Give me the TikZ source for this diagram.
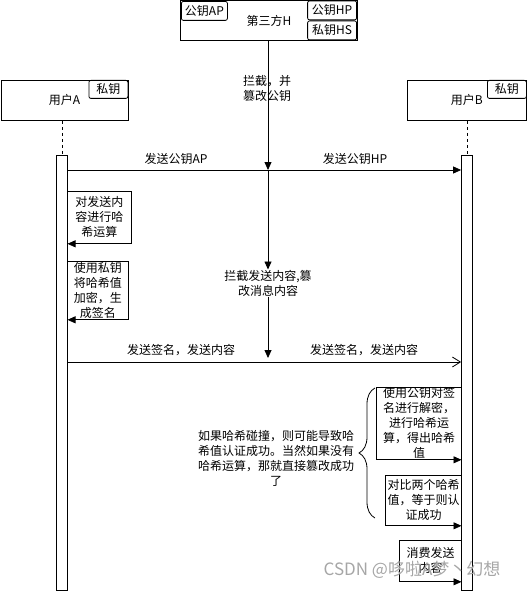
\documentclass[tikz,border=0pt]{standalone}
\usepackage{fontspec}
\setmainfont{Noto Sans CJK SC}
\usetikzlibrary{arrows.meta,decorations.pathreplacing}
\begin{document}
\begin{tikzpicture}[x=1pt,y=-1pt,line width=0.8pt,
  font=\fontsize{12}{15}\selectfont,
  box/.style={draw,rectangle,inner sep=0pt},
  keybox/.style={draw,rounded corners=2pt,inner sep=0pt,minimum height=19pt},
  bar/.style={draw,fill=white,minimum width=11pt,inner sep=0pt},
  msg/.style={-{Triangle[length=8pt,width=7pt]}},
  omsg/.style={-{Straight Barb[length=8pt,width=10pt]}},
  txt/.style={align=center,inner sep=0pt},
  selfbox/.style={inner sep=0pt,align=center},
  life/.style={dash pattern=on 3pt off 3pt}]
\useasboundingbox (0,0) rectangle (528,591);

% participants
\node[box,minimum width=177pt,minimum height=40pt,anchor=north west] (H) at (180,0.5) {第三方H};
\node[keybox,minimum width=46pt,anchor=north west] (hAP) at (181,1) {公钥AP};
\node[keybox,minimum width=49pt,anchor=north east] (hHP) at (357,0.5) {公钥HP};
\node[keybox,minimum width=49pt,anchor=north east] (hHS) at (357,20.5) {私钥HS};

\node[box,minimum width=127pt,minimum height=40pt,anchor=north west] (uA) at (0.5,80) {用户A};
\node[keybox,minimum width=39pt,minimum height=18pt,anchor=north east] (kA) at (uA.north east) {私钥};
\node[box,minimum width=119pt,minimum height=40pt,anchor=north west] (uB) at (407,80) {用户B};
\node[keybox,minimum width=39pt,minimum height=18pt,anchor=north east] (kB) at (uB.north east) {私钥};

% activation bars
\node[bar,minimum height=435pt,anchor=north] (barA) at (62,155) {};
\node[bar,minimum height=435pt,anchor=north] (barB) at (467,155) {};
\draw[life] (barA.north |- uA.south) -- (barA.north);
\draw[life] (barB.north |- uB.south) -- (barB.north);

% attacker line
\coordinate (h1) at (268,170);
\coordinate (h3) at (268,358);
\coordinate (m2) at (268,362);
\draw[msg] (h1 |- H.south) -- (h1);
\node[txt] (t1) at (267,88) {拦截，并\\篡改公钥};
\node[txt] (t2) at (268,283) {拦截发送内容,篡\\改消息内容};
\draw[msg] (h1) -- (t2.north);
\draw[msg] (t2.south) -- (h3);

% message 1
\draw[msg] (barA.east |- h1) -- (barB.west |- h1);
\node[txt] (l1) at (176,159) {发送公钥AP};
\node[txt] (l2) at (355,159) {发送公钥HP};

% message 2
\draw[omsg] (barA.east |- m2) -- (barB.west |- m2);
\node[txt] (l3) at (181,350) {发送签名，发送内容};
\node[txt] (l4) at (364,350) {发送签名，发送内容};

% self calls of A
\node[selfbox,minimum width=63pt,minimum height=52pt,anchor=north west] (a1) at (67.5,191) {对发送内\\容进行哈\\希运算};
\draw[msg] (a1.north west) -- (a1.north east) -- (a1.south east) -- (a1.south west);
\node[selfbox,minimum width=60pt,minimum height=58pt,anchor=north west] (a2) at (67.5,261) {使用私钥\\将哈希值\\加密，生\\成签名};
\draw[msg] (a2.north west) -- (a2.north east) -- (a2.south east) -- (a2.south west);

% self calls of B
\node[selfbox,minimum width=84pt,minimum height=72pt,anchor=north east] (b1) at (461.5,387) {使用公钥对签\\名进行解密，\\进行哈希运\\算，得出哈希\\值};
\draw[msg] (b1.north east) -- (b1.north west) -- (b1.south west) -- (b1.south east);
\node[selfbox,minimum width=75pt,minimum height=50pt,anchor=north east] (b2) at (461.5,475) {对比两个哈希\\值，等于则认\\证成功};
\draw[msg] (b2.north east) -- (b2.north west) -- (b2.south west) -- (b2.south east);
\node[selfbox,minimum width=61pt,minimum height=41pt,anchor=north east] (b3) at (461.5,540) {消费发送\\内容};
\draw[msg] (b3.north east) -- (b3.north west) -- (b3.south west) -- (b3.south east);

% brace and note
\draw[decorate,decoration={brace,amplitude=16pt}] (375,518) -- (375,388);
\node[txt] (note) at (276,458) {如果哈希碰撞，则可能导致哈\\希值认证成功。当然如果没有\\哈希运算，那就直接篡改成功\\了};

% watermark
\node[txt,text=black!35,font=\fontsize{17}{17}\selectfont] (wm) at (412,570) {CSDN @哆啦A梦丶幻想};
\end{tikzpicture}
\end{document}
